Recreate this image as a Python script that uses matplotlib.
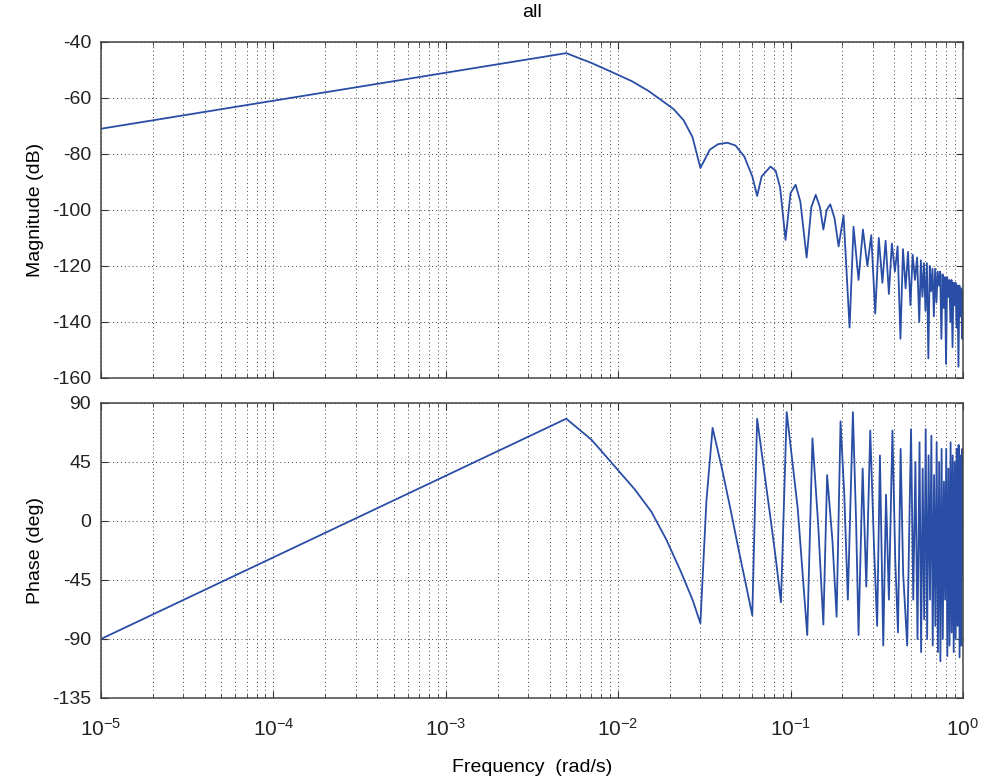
import matplotlib
matplotlib.use("Agg")
import matplotlib.pyplot as plt
from matplotlib.ticker import LogLocator, NullFormatter, FixedLocator

plt.rcParams["font.family"] = ["Liberation Sans", "DejaVu Sans"]
plt.rcParams["mathtext.default"] = "regular"
plt.rcParams["axes.unicode_minus"] = False

# magnitude response (rad/s, dB)
freq_mag = [
    1e-5, 5e-3, 7e-3, 9e-3, 0.012, 0.015, 0.018, 0.021, 0.024, 0.027, 0.030,
    0.034, 0.038, 0.043, 0.048, 0.054, 0.060, 0.064, 0.068, 0.0765, 0.082, 0.087,
    0.0935, 0.100, 0.107, 0.114, 0.124, 0.132, 0.140, 0.148, 0.155, 0.162, 0.170,
    0.180, 0.190, 0.203, 0.220, 0.232, 0.248, 0.263, 0.279, 0.294, 0.310, 0.325,
    0.341, 0.356, 0.372, 0.387, 0.403, 0.418, 0.434, 0.449, 0.465, 0.480, 0.496,
    0.511, 0.527, 0.542, 0.558, 0.570, 0.582, 0.594, 0.606, 0.618, 0.630, 0.642,
    0.654, 0.666, 0.678, 0.690, 0.702, 0.714, 0.726, 0.738, 0.750, 0.762, 0.774,
    0.786, 0.798, 0.810, 0.822, 0.834, 0.846, 0.858, 0.870, 0.882, 0.894, 0.906,
    0.918, 0.930, 0.942, 0.954, 0.966, 0.978, 0.990, 1.0,
]
mag_db = [
    -71, -44, -47.5, -50.5, -54, -57.5, -61, -64, -68, -74, -85,
    -78.5, -76.5, -76, -77, -81, -88, -95, -88, -84.5, -86, -92,
    -110.7, -94, -91, -97, -117, -99, -94.6, -99, -107, -100, -98,
    -103, -113, -102, -142, -106, -125, -107, -120, -109, -137, -110,
    -126, -111, -130, -112, -122, -113, -146, -114, -128, -115, -134,
    -116, -125, -117, -140, -118, -131, -119, -136, -119, -153, -120,
    -129, -121, -138, -121, -133, -122, -127, -122, -146, -123, -135,
    -124, -155, -124, -131, -125, -140, -125, -149, -126, -134, -126,
    -142, -127, -156, -127, -138, -128, -146, -129,
]

# phase response (rad/s, deg)
freq_phase = [
    1e-5, 5e-3, 7e-3, 0.0098, 0.0125, 0.0156, 0.019, 0.023, 0.027, 0.030,
    0.0325, 0.0353, 0.040, 0.045, 0.050, 0.055, 0.060, 0.064, 0.070, 0.076,
    0.082, 0.088, 0.095, 0.110, 0.125, 0.134, 0.145, 0.155, 0.163, 0.175,
    0.185, 0.195, 0.205, 0.215, 0.230, 0.240, 0.248, 0.262, 0.275, 0.290,
    0.305, 0.318, 0.330, 0.345, 0.358, 0.372, 0.390, 0.405, 0.420, 0.435,
    0.450, 0.475, 0.500, 0.515, 0.530, 0.545, 0.560, 0.572, 0.584, 0.596,
    0.608, 0.620, 0.632, 0.644, 0.656, 0.668, 0.680, 0.692, 0.704, 0.716,
    0.728, 0.740, 0.752, 0.764, 0.776, 0.788, 0.800, 0.812, 0.824, 0.836,
    0.848, 0.860, 0.872, 0.884, 0.896, 0.908, 0.920, 0.932, 0.944, 0.956,
    0.968, 0.980, 0.992, 1.0,
]
phase_deg = [
    -90, 78, 62, 40, 24, 7, -14, -38, -60, -78,
    15, 71, 40, 8, -22, -48, -72, 78, 40, 5,
    -28, -62, 83, 10, -87, 63, -5, -79, 35, -15,
    -73, 76, 20, -60, 83, 0, -87, 40, -50, 69,
    -20, -80, 50, -95, 20, -60, 69, -30, -85, 55,
    -40, -95, 70, -60, 45, -90, 60, -100, 40, -75,
    70, -90, 50, -60, 65, -95, 35, -80, 60, -100,
    45, -107, 55, -90, 30, -60, 55, -103, 40, -95,
    60, -85, 50, -100, 45, -90, 55, -80, 58, -104,
    50, -95, 55, -40,
]

mag_ticks = [-160, -140, -120, -100, -80, -60, -40]
phase_ticks = [-135, -90, -45, 0, 45, 90]
xlims = (1e-5, 1.0)

line_color = "#2a4ea6"
grid_kw = dict(color="#444444", linestyle=(0, (1, 3)), linewidth=0.7)
fs = 14


def style_axes(ax, yticks):
    ax.set_xscale("log")
    ax.set_xlim(*xlims)
    ax.set_ylim(yticks[0], yticks[-1])
    ax.yaxis.set_major_locator(FixedLocator(yticks))
    ax.xaxis.set_major_locator(LogLocator(base=10, numticks=10))
    ax.xaxis.set_minor_locator(LogLocator(base=10, subs=range(2, 10), numticks=20))
    ax.xaxis.set_minor_formatter(NullFormatter())
    ax.tick_params(which="both", direction="in", top=True, right=True,
                   labelsize=fs, colors="#333333", labelcolor="#222222")
    ax.tick_params(which="major", length=5)
    ax.tick_params(which="minor", length=3)
    ax.tick_params(axis="y", pad=7)
    ax.grid(True, which="major", **grid_kw)
    ax.grid(True, which="minor", axis="x", **grid_kw)
    for sp in ax.spines.values():
        sp.set_color("#444444")
        sp.set_linewidth(1.1)


fig = plt.figure(figsize=(9.85, 7.84), dpi=100)
ax_mag = fig.add_axes([0.1025, 0.5179, 0.8751, 0.4286])
ax_ph = fig.add_axes([0.1025, 0.1097, 0.8751, 0.3763])

ax_mag.plot(freq_mag, mag_db, color=line_color, linewidth=1.3)
style_axes(ax_mag, mag_ticks)
ax_mag.xaxis.set_major_formatter(NullFormatter())
ax_mag.set_ylabel("Magnitude (dB)", fontsize=fs, labelpad=6)
ax_mag.set_title("all", fontsize=fs, pad=18)

ax_ph.plot(freq_phase, phase_deg, color=line_color, linewidth=1.3)
style_axes(ax_ph, phase_ticks)
ax_ph.set_ylabel("Phase (deg)", fontsize=fs, labelpad=6)
ax_ph.set_xlabel("Frequency  (rad/s)", fontsize=fs, labelpad=14)
ax_ph.tick_params(axis="x", which="major", pad=14, labelsize=fs + 1)

fig.savefig("out.png", dpi=100)
